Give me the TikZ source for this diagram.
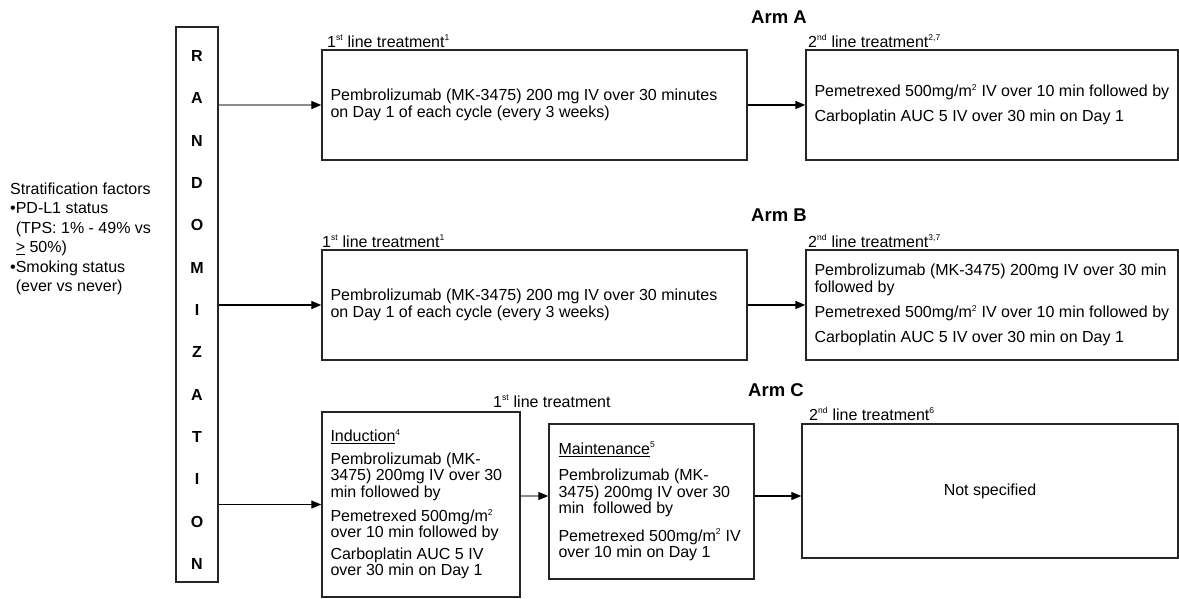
\documentclass[tikz,border=0pt]{standalone}
\usepackage{fontspec}
\setmainfont{Liberation Sans}
\usetikzlibrary{arrows.meta}
\newcommand\mysup[1]{\textsuperscript{\fontsize{8.5}{8.5}\selectfont #1}}
\newcommand\fs{\fontsize{16}{16.5}\selectfont}
\begin{document}
\begin{tikzpicture}[x=1pt,y=-1pt,
  box/.style={draw=black!85, line width=1.4pt, inner sep=0pt},
  txt/.style={inner sep=0pt, align=left, anchor=west, font=\fs},
  lbl/.style={inner sep=0pt, anchor=base west, font=\fs},
  arm/.style={inner sep=0pt, anchor=west, font=\fontsize{18.5}{18.5}\selectfont\bfseries},
  letter/.style={inner sep=0pt, font=\fs\bfseries},
  arr/.style={line width=1.2pt, -{Triangle[length=10pt,width=8pt,color=black]}},
  grayarr/.style={arr, draw=black!45}
]
\useasboundingbox (0,0) rectangle (1179,598);

% left text
\node[txt, font=\fontsize{16}{19.5}\selectfont] (strat) at (10,239) {Stratification factors\\
  •PD-L1 status\\
  \hphantom{•}(TPS: 1\% - 49\% vs\\
  \hphantom{•}\underline{>} 50\%)\\
  •Smoking status\\
  \hphantom{•}(ever vs never)};

% randomization box
\node[box, minimum width=42pt, minimum height=555pt] (rand) at (197,304.5) {};
\foreach \l [count=\i from 0] in {R,A,N,D,O,M,I,Z,A,T,I,O,N}
  \node[letter] (L\i) at (197,56+42.33*\i) {\l};

% arm labels
\node[arm] (armA) at (751,17) {Arm A};
\node[arm] (armB) at (751,215) {Arm B};
\node[arm] (armC) at (748,390) {Arm C};

% Arm A
\node[box, minimum width=425pt, minimum height=110pt] (a1) at (534.5,105) {};
\node[box, minimum width=372pt, minimum height=110pt] (a2) at (992,105) {};
\node[lbl] (a1l) at (327,47) {1\mysup{st} line treatment\mysup{1}};
\node[lbl] (a2l) at (808,47) {2\mysup{nd} line treatment\mysup{2,7}};
\node[txt] (a1t) at ([xshift=9pt]a1.west) {Pembrolizumab (MK-3475) 200 mg IV over 30 minutes\\on Day 1 of each cycle (every 3 weeks)};
\node[txt] (a2t) at ([xshift=9pt]a2.west) {Pemetrexed 500mg/m\mysup{2} IV over 10 min followed by\\[8.5pt]Carboplatin AUC 5 IV over 30 min on Day 1};

% Arm B
\node[box, minimum width=425pt, minimum height=110pt] (b1) at (534.5,305) {};
\node[box, minimum width=372pt, minimum height=110pt] (b2) at (992,305) {};
\node[lbl] (b1l) at (322,247) {1\mysup{st} line treatment\mysup{1}};
\node[lbl] (b2l) at (808,247) {2\mysup{nd} line treatment\mysup{3,7}};
\node[txt] (b1t) at ([xshift=9pt]b1.west) {Pembrolizumab (MK-3475) 200 mg IV over 30 minutes\\on Day 1 of each cycle (every 3 weeks)};
\node[txt] (b2t) at ([xshift=9pt]b2.west) {Pembrolizumab (MK-3475) 200mg IV over 30 min\\followed by\\[8.5pt]Pemetrexed 500mg/m\mysup{2} IV over 10 min followed by\\[8.5pt]Carboplatin AUC 5 IV over 30 min on Day 1};

% Arm C
\node[box, minimum width=198pt, minimum height=185pt] (ind) at (421,504.5) {};
\node[box, minimum width=205pt, minimum height=155pt] (mai) at (651.5,501.5) {};
\node[box, minimum width=376pt, minimum height=134pt] (c2) at (990,491) {};
\node[lbl] (c1l) at (493,407) {1\mysup{st} line treatment};
\node[lbl] (c2l) at (809,420) {2\mysup{nd} line treatment\mysup{6}};
\node[txt] (indt) at ([xshift=9pt]ind.west) {\underline{Induction}\mysup{4}\\[6pt]
  Pembrolizumab (MK-\\3475) 200mg IV over 30\\min followed by\\[7.5pt]
  Pemetrexed 500mg/m\mysup{2}\\over 10 min followed by\\[5pt]
  Carboplatin AUC 5 IV\\over 30 min on Day 1};
\node[txt] (mait) at ([xshift=10pt]mai.west) {\underline{Maintenance}\mysup{5}\\[10pt]
  Pembrolizumab (MK-\\3475) 200mg IV over 30\\min\ \ followed by\\[11pt]
  Pemetrexed 500mg/m\mysup{2} IV\\over 10 min on Day 1};
\node[inner sep=0pt, font=\fs] (ns) at (c2.center) {Not specified};

% connectors
\coordinate (cy) at (0,496);
\draw[grayarr] (rand.east |- a1.west) -- (a1.west);
\draw[arr] (rand.east |- b1.west) -- (b1.west);
\draw[arr] (rand.east |- ind.west) -- (ind.west);
\draw[arr] (a1.east) -- (a2.west);
\draw[arr] (b1.east) -- (b2.west);
\draw[grayarr] (ind.east |- cy) -- (mai.west |- cy);
\draw[arr] (mai.east |- cy) -- (c2.west |- cy);
\end{tikzpicture}
\end{document}
